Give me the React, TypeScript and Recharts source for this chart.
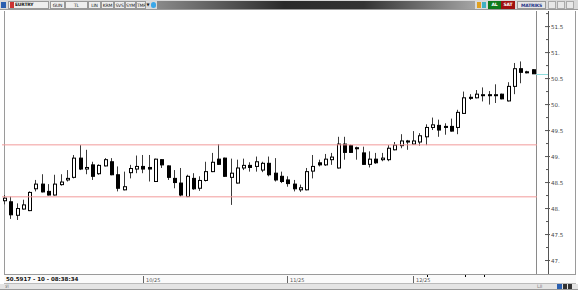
import React from "react";
import { ComposedChart, Bar, XAxis, YAxis, ReferenceLine } from "recharts";

// daily EURTRY candles, Sep -> Dec 2025
const OPEN = [
  48.15, 48.13, 47.87, 47.99, 47.96, 48.38, 48.47, 48.33, 48.26, 48.46,
  48.55, 48.6, 48.97, 48.76, 48.84, 48.67, 48.82, 48.9, 48.65, 48.36,
  48.69, 48.76, 48.81, 48.79, 48.52, 48.94, 48.82, 48.58, 48.49, 48.23,
  48.58, 48.39, 48.54, 48.71, 48.95, 48.97, 48.6, 48.49, 48.78, 48.83,
  48.81, 48.74, 48.87, 48.68, 48.62, 48.55, 48.47, 48.36, 48.36, 48.72,
  48.88, 48.84, 48.94, 48.78, 49.24, 49.21, 49.15, 49.07, 48.85, 48.95,
  48.94, 48.94, 49.13, 49.21, 49.28, 49.24, 49.28, 49.38, 49.56, 49.6,
  49.58, 49.58, 49.56, 49.83, 50.14, 50.13, 50.18, 50.19, 50.18, 50.2,
  50.07, 50.35, 50.69, 50.63, 50.67,
];
const HIGH = [
  48.26, 48.23, 48.1, 48.17, 48.33, 48.55, 48.66, 48.47, 48.65, 48.66,
  48.74, 49.03, 49.22, 49.13, 48.9, 48.85, 48.97, 48.97, 48.81, 48.71,
  48.84, 49.02, 49.03, 49.03, 48.96, 48.95, 48.83, 48.74, 48.78, 48.65,
  48.68, 48.62, 48.9, 49.07, 49.24, 48.98, 48.96, 48.94, 48.96, 48.89,
  49.0, 48.9, 49.0, 48.97, 48.71, 48.62, 48.55, 48.46, 48.78, 49.03,
  48.94, 49.05, 49.07, 49.38, 49.38, 49.23, 49.19, 49.19, 49.1, 49.07,
  49.07, 49.22, 49.28, 49.43, 49.32, 49.49, 49.45, 49.62, 49.75, 49.71,
  49.64, 49.73, 49.9, 50.25, 50.2, 50.28, 50.33, 50.26, 50.39, 50.21,
  50.43, 50.8, 50.83, 50.65, 50.68,
];
const LOW = [
  48.08, 47.8, 47.78, 47.98, 47.95, 48.33, 48.31, 48.25, 48.25, 48.44,
  48.52, 48.58, 48.74, 48.66, 48.55, 48.65, 48.81, 48.64, 48.33, 48.35,
  48.58, 48.68, 48.68, 48.52, 48.51, 48.78, 48.55, 48.39, 48.23, 48.22,
  48.36, 48.34, 48.52, 48.7, 48.84, 48.61, 48.07, 48.48, 48.74, 48.71,
  48.71, 48.7, 48.62, 48.52, 48.49, 48.42, 48.33, 48.32, 48.35, 48.58,
  48.81, 48.82, 48.84, 48.77, 48.94, 49.07, 48.94, 48.84, 48.79, 48.86,
  48.91, 48.91, 49.12, 49.16, 49.13, 49.23, 49.21, 49.22, 49.51, 49.38,
  49.42, 49.48, 49.43, 49.82, 50.09, 50.12, 50.06, 50.0, 50.03, 50.1,
  50.06, 50.2, 50.41, 50.6, 50.59,
];
const CLOSE = [
  48.2, 47.88, 48.0, 48.07, 48.31, 48.47, 48.32, 48.26, 48.47, 48.51,
  48.58, 48.97, 48.76, 48.79, 48.62, 48.83, 48.94, 48.65, 48.39, 48.42,
  48.77, 48.81, 48.76, 48.76, 48.95, 48.84, 48.6, 48.5, 48.26, 48.62,
  48.38, 48.54, 48.71, 48.89, 48.85, 48.62, 48.68, 48.78, 48.83, 48.79,
  48.9, 48.87, 48.65, 48.55, 48.52, 48.48, 48.38, 48.4, 48.71, 48.81,
  48.84, 48.95, 48.99, 49.24, 49.08, 49.08, 49.17, 48.85, 48.95, 48.88,
  48.97, 49.16, 49.22, 49.3, 49.3, 49.3, 49.4, 49.56, 49.61, 49.51,
  49.56, 49.49, 49.85, 50.13, 50.12, 50.2, 50.19, 50.18, 50.19, 50.11,
  50.35, 50.69, 50.62, 50.62, 50.5917,
];

// month start candles shown in the status bar
const MONTH_INDEX = [22, 45, 65];
const MONTH_LABELS = ["10/25", "11/25", "12/25"];

// horizontal support / resistance lines
const LEVELS = [49.225, 48.225];

const Y_TICKS = [
  47, 47.25, 47.5, 47.75, 48, 48.25, 48.5, 48.75, 49, 49.25,
  49.5, 49.75, 50, 50.25, 50.5, 50.75, 51, 51.25, 51.5, 51.75,
];

const LAST = OPEN.length - 1;

const data = OPEN.map((o, i) => ({
  i,
  open: o,
  high: HIGH[i],
  low: LOW[i],
  close: CLOSE[i],
  range: [LOW[i], HIGH[i]],
}));

const FONT = "'DejaVu Sans', sans-serif";
const AXIS_X = 548;

const Candle = (props: any) => {
  const { x, y, width, height, payload } = props;
  if (!payload) return null;
  const { open, high, low, close } = payload;
  const top = Math.min(y, y + height);
  const h = Math.abs(height);
  const ppu = h / (high - low);
  const cx = Math.round(x + width / 2);
  const bt = top + (high - Math.max(open, close)) * ppu;
  const bh = Math.max(1, Math.abs(open - close) * ppu);
  const up = close >= open;
  const closeY = Math.round(top + (high - close) * ppu) + 0.5;
  return (
    <g>
      {payload.i === LAST && (
        <line x1={cx + 2} x2={AXIS_X} y1={closeY} y2={closeY} stroke="#8fdede" />
      )}
      <line x1={cx - 0.5} x2={cx - 0.5} y1={top} y2={top + h} stroke="#3a3a3a" strokeWidth={1} />
      <rect x={cx - 1.5} y={bt} width={3} height={bh} fill={up ? "#fff" : "#000"} stroke="#000" strokeWidth={1} />
    </g>
  );
};

const PriceTick = (props: any) => {
  const { y, payload } = props;
  const v = payload.value as number;
  const major = Math.abs(v * 2 - Math.round(v * 2)) < 1e-6;
  return (
    <g>
      <line x1={major ? AXIS_X - 3 : AXIS_X - 2} x2={AXIS_X + (major ? 2 : 0)} y1={y} y2={y} stroke="#555" />
      {major && (
        <text x={AXIS_X + 3} y={y} dy={2} fontSize={5.5} fill="#444" fontFamily={FONT}>
          {Number.isInteger(v) ? `${v}.` : `${v}`}
        </text>
      )}
    </g>
  );
};

const DateTick = (props: any) => {
  const { x, payload } = props;
  const k = MONTH_INDEX.indexOf(payload.value);
  if (k < 0) return null;
  const cx = Math.round(x);
  return (
    <g>
      <line x1={cx - 0.5} x2={cx - 0.5} y1={276} y2={283} stroke="#666" />
      <text x={cx + 2} y={282} fontSize={5} fill="#555" fontFamily={FONT}>
        {MONTH_LABELS[k]}
      </text>
    </g>
  );
};

const abs = (left: number, top: number, width: number, height: number, extra: any = {}) => ({
  position: "absolute" as const,
  left,
  top,
  width,
  height,
  boxSizing: "border-box" as const,
  ...extra,
});

const btnText = {
  fontFamily: FONT,
  fontSize: 4.5,
  lineHeight: "7px",
  textAlign: "center" as const,
  color: "#222",
  overflow: "hidden",
  whiteSpace: "nowrap" as const,
  letterSpacing: -0.2,
};

const TOOLBAR = [
  ["GUN", 50, 15],
  ["TL", 65, 23],
  ["LIN", 88, 13],
  ["KRM", 101, 13],
  ["SVS", 114, 11],
  ["SYM", 125, 11],
  ["TMP", 136, 10],
] as const;

export default function App() {
  return (
    <div style={abs(0, 0, 578, 290, { background: "#fff", overflow: "hidden" })}>
      {/* toolbar */}
      <div style={abs(0, 0, 578, 10, { background: "#d9d9d9", borderBottom: "1px solid #9a9a9a" })} />
      <div style={abs(1, 2, 5, 6, { background: "#2a5fb0" })} />
      <div style={abs(8, 1, 41, 8, { border: "1px solid #999", background: "#eee" })} />
      <div style={abs(10, 2, 4, 6, { background: "#c33" })} />
      <div style={abs(15, 1, 30, 8, { ...btnText, textAlign: "left", fontWeight: 700 })}>EURTRY</div>
      {TOOLBAR.map(([t, l, w]) => (
        <div key={t} style={abs(l, 1, w, 8, { border: "1px solid #999", background: "#eee", ...btnText })}>
          {t}
        </div>
      ))}
      <div style={abs(146, 1, 4, 8, { ...btnText, fontSize: 4 })}>▼</div>
      <div style={abs(151, 2, 5, 6, { background: "#3aa7e8", borderRadius: 3 })} />
      <div
        style={abs(157, 1, 318, 8, {
          background: "linear-gradient(to right, #8a8a8a 0%, #2b2b2b 40%, #333 65%, #a5a5a5 100%)",
        })}
      />
      <div style={abs(477, 2, 4, 6, { background: "#e0a020" })} />
      <div style={abs(482, 2, 4, 6, { background: "#40b0c0" })} />
      <div style={abs(488, 1, 13, 8, { background: "#0d7a1c", ...btnText, color: "#fff", fontWeight: 700 })}>AL</div>
      <div style={abs(501, 1, 14, 8, { background: "#a01010", ...btnText, color: "#fff", fontWeight: 700 })}>SAT</div>
      <div style={abs(517, 1, 29, 8, { background: "#e6e6e6", border: "1px solid #999", ...btnText, color: "#223388", fontWeight: 700 })}>
        MATRIKS
      </div>
      {[548, 557, 566].map((l) => (
        <div key={l} style={abs(l, 1, 8, 8, { background: "#e8e8e8", border: "1px solid #aaa" })} />
      ))}

      {/* chart frame */}
      <div style={abs(4, 11, 1, 264, { background: "#9a9a9a" })} />
      <div style={abs(536, 11, 1, 264, { background: "#8a8a8a" })} />
      <div style={abs(AXIS_X - 0.5, 11, 1, 264, { background: "#555" })} />
      <div style={abs(575, 11, 1, 278, { background: "#9a9a9a" })} />
      <div style={abs(4, 274, 572, 1, { background: "#9a9a9a" })} />

      {/* status bar */}
      <div style={abs(4, 275, 572, 9, { background: "#fafafa", borderBottom: "1px solid #bbb" })} />
      <div style={abs(6, 275, 80, 9, { fontFamily: FONT, fontSize: 5.5, lineHeight: "9px", fontWeight: 700, color: "#111" })}>
        50.5917 - 10 - 08:38:34
      </div>
      {[427, 465, 484].map((l) => (
        <div key={l} style={abs(l, 275, 1, 2, { background: "#000" })} />
      ))}
      <div style={abs(0, 284, 578, 6, { background: "#e4e4e4", borderBottom: "1px solid #999" })} />
      <div style={abs(5, 283, 10, 7, { fontFamily: FONT, fontSize: 4.5, lineHeight: "7px", color: "#777" })}>الا</div>
      <div style={abs(537, 283, 12, 7, { fontFamily: FONT, fontSize: 4.5, lineHeight: "7px", color: "#777" })}>الـا</div>
      <div style={abs(557, 284, 5, 5, { background: "#2a5fb0" })} />
      <div style={abs(563, 284, 4, 5, { background: "#333" })} />
      <div style={abs(568, 284, 4, 5, { background: "#333" })} />

      <div style={abs(0, 0, 578, 290)}>
        <ComposedChart
          width={578}
          height={290}
          data={data}
          margin={{ top: 11, right: 0, bottom: 0, left: 2 }}
          barCategoryGap={0}
          style={{ background: "transparent" }}
        >
          <XAxis dataKey="i" height={17} interval={0} tick={<DateTick />} tickLine={false} axisLine={false} />
          <YAxis
            orientation="right"
            type="number"
            width={41}
            domain={[46.76, 51.8]}
            ticks={Y_TICKS}
            interval={0}
            axisLine={false}
            tickLine={false}
            tick={<PriceTick />}
          />
          {LEVELS.map((v) => (
            <ReferenceLine key={v} y={v} stroke="#f29a9a" strokeWidth={1} />
          ))}
          <Bar dataKey="range" shape={<Candle />} isAnimationActive={false} />
        </ComposedChart>
      </div>
    </div>
  );
}
